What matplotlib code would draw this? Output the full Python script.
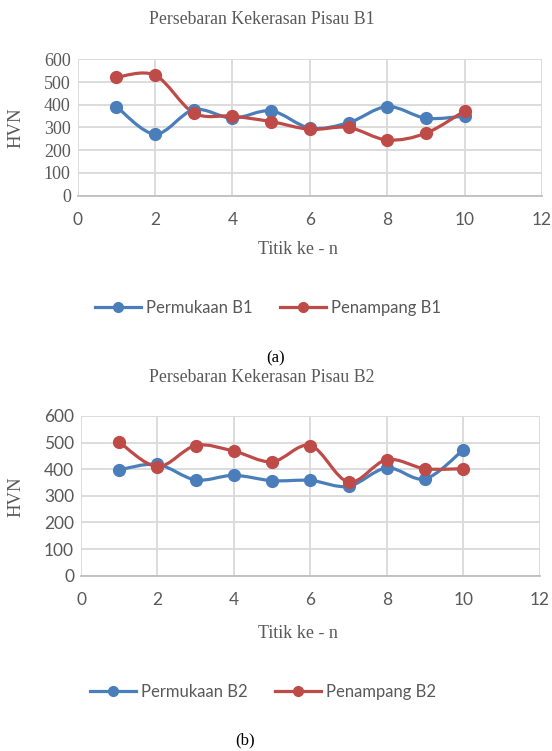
import matplotlib
matplotlib.use("Agg")
import matplotlib.pyplot as plt
from matplotlib.path import Path
from matplotlib.patches import PathPatch
from matplotlib.lines import Line2D
import numpy as np

# ---- data ----
titik = [1, 2, 3, 4, 5, 6, 7, 8, 9, 10]
permukaan_b1 = [392, 271, 378, 341, 373, 298, 321, 392, 341, 350]
penampang_b1 = [521, 530, 364, 350, 326, 292, 300, 245, 275, 373]
permukaan_b2 = [398, 418, 360, 377, 357, 358, 336, 405, 364, 473]
penampang_b2 = [502, 410, 489, 468, 428, 489, 352, 436, 402, 402]

titles = ["Persebaran Kekerasan Pisau B1", "Persebaran Kekerasan Pisau B2"]
legend_labels = [["Permukaan B1", "Penampang B1"], ["Permukaan B2", "Penampang B2"]]
captions = ["(a)", "(b)"]
xticks = [0, 2, 4, 6, 8, 10, 12]
yticks = [0, 100, 200, 300, 400, 500, 600]

BLUE = "#4A7EBB"
RED = "#BE4B48"
GRID = "#D9D9D9"
TXT = "#595959"
SERIF = "Liberation Serif"
SANS = "Lato"

W, H = 552, 751
fig = plt.figure(figsize=(W / 100, H / 100), dpi=100)


def smooth_path(xs, ys):
    # Excel-style smoothed line: cubic Bezier segments through data points
    pts = np.column_stack([xs, ys]).astype(float)
    verts = [tuple(pts[0])]
    codes = [Path.MOVETO]
    n = len(pts)
    for i in range(n - 1):
        p0 = pts[i - 1] if i > 0 else pts[i]
        p1 = pts[i]
        p2 = pts[i + 1]
        p3 = pts[i + 2] if i + 2 < n else pts[i + 1]
        c1 = p1 + (p2 - p0) / 6.0
        c2 = p2 - (p3 - p1) / 6.0
        verts += [tuple(c1), tuple(c2), tuple(p2)]
        codes += [Path.CURVE4] * 3
    return Path(verts, codes)


def px_axes(left, right, top, bottom):
    return fig.add_axes([left / W, 1 - bottom / H, (right - left) / W, (bottom - top) / H])


def draw_chart(ax, s1, s2, ytick_font, ytick_size):
    for vals, col in ((s1, BLUE), (s2, RED)):
        patch = PathPatch(smooth_path(titik, vals), facecolor="none", edgecolor=col,
                          lw=2.3, transform=ax.transData, zorder=3, capstyle="round",
                          joinstyle="round")
        ax.add_patch(patch)
        ax.plot(titik, vals, linestyle="none", marker="o", ms=8.5, color=col, zorder=4)
    ax.set_xlim(0, 12)
    ax.set_ylim(0, 600)
    ax.set_xticks(xticks)
    ax.set_yticks(yticks)
    ax.grid(True, color=GRID, lw=1.3)
    ax.set_axisbelow(True)
    for s in ("top", "right", "left"):
        ax.spines[s].set_visible(False)
    ax.spines["bottom"].set_color("#BFBFBF")
    ax.spines["bottom"].set_linewidth(1.3)
    ax.tick_params(length=0, colors=TXT, labelsize=12.5)
    ax.tick_params(axis="y", pad=5, labelsize=ytick_size)
    ax.tick_params(axis="x", pad=12)
    for lab in ax.get_xticklabels():
        lab.set_fontfamily(SANS)
    for lab in ax.get_yticklabels():
        lab.set_fontfamily(ytick_font)


# chart (a)
ax1 = px_axes(77.7, 542, 59.3, 195.7)
draw_chart(ax1, permukaan_b1, penampang_b1, SERIF, 13)
# chart (b)
ax2 = px_axes(81, 539.7, 416, 575.7)
draw_chart(ax2, permukaan_b2, penampang_b2, SANS, 12.5)

# titles, axis labels, legends, captions
fig.text(262 / W, 1 - 19 / H, titles[0], ha="center", va="center", family=SERIF, fontsize=12.8, color=TXT)
fig.text(262 / W, 1 - 377 / H, titles[1], ha="center", va="center", family=SERIF, fontsize=12.8, color=TXT)
for yc in (128, 497):
    fig.text(16 / W, 1 - yc / H, "HVN", ha="center", va="center", rotation=90, family=SERIF,
             fontsize=13.5, color=TXT)
for yc in (250, 633):
    fig.text(298 / W, 1 - yc / H, "Titik ke - n", ha="center", va="center", family=SERIF,
             fontsize=13, color=TXT)

for labels, xc, yc in ((legend_labels[0], 268, 308), (legend_labels[1], 263, 692)):
    handles = [Line2D([], [], color=BLUE, lw=2.3, marker="o", ms=7),
               Line2D([], [], color=RED, lw=2.3, marker="o", ms=7)]
    leg = fig.legend(handles, labels, loc="center", bbox_to_anchor=(xc / W, 1 - yc / H),
                     ncol=2, frameon=False, prop={"family": SANS, "size": 12},
                     handlelength=2.8, columnspacing=1.6, handletextpad=0.3)
    for t in leg.get_texts():
        t.set_color(TXT)

fig.text(276 / W, 1 - 358 / H, captions[0], ha="center", va="center", family=SERIF, fontsize=12, color="black")
fig.text(245 / W, 1 - 740 / H, captions[1], ha="center", va="center", family=SERIF, fontsize=12, color="black")

fig.savefig("out.png", dpi=100)
